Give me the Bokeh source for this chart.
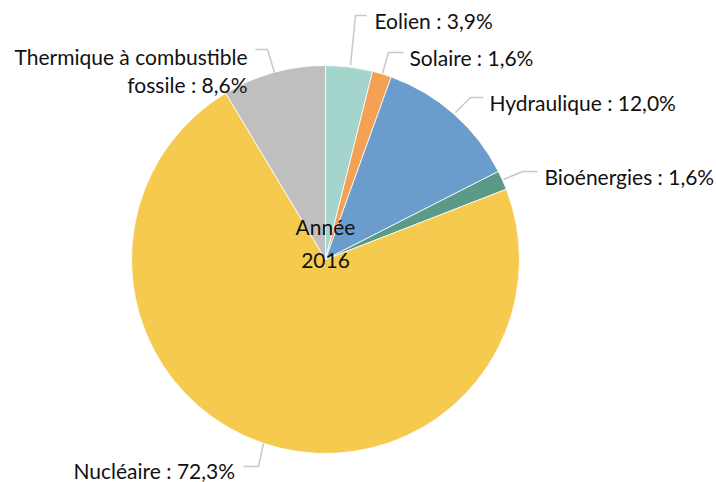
import math
from bokeh.plotting import figure
from bokeh.models import Range1d, ColumnDataSource
from bokeh.core.properties import value
from bokeh.embed import file_html
from bokeh.resources import INLINE

# ---- data ----
categories = ["Eolien", "Solaire", "Hydraulique", "Bioénergies", "Nucléaire",
              "Thermique à combustible fossile"]
shares = [3.9, 1.6, 12.0, 1.6, 72.3, 8.6]
colors = ["#a3d5cc", "#f4a055", "#6a9dcb", "#5b9a86", "#f6c94f", "#bfbfbf"]
center_title = ["Année", "2016"]

# ---- layout (image pixel coordinates, y down) ----
W, H = 716, 482
CX, CY, R = 325, 259, 194

def fmt(v):
    return ("%.1f" % v).replace(".", ",") + "%"

p = figure(width=W, height=H, output_backend="svg", toolbar_location=None,
           x_range=Range1d(0, W), y_range=Range1d(-H, 0),
           x_axis_location=None, y_axis_location=None, min_border=0)
p.grid.visible = False
p.outline_line_color = None
p.background_fill_color = "white"

total = sum(shares)
starts, ends = [], []
cum = 0.0
for s in shares:
    a0 = cum / total
    cum += s
    a1 = cum / total
    # clockwise from 12 o'clock
    starts.append(math.pi / 2 - a1 * 2 * math.pi)
    ends.append(math.pi / 2 - a0 * 2 * math.pi)

src = ColumnDataSource(dict(start=starts, end=ends, color=colors))
p.wedge(x=CX, y=-CY, radius=R, start_angle="start", end_angle="end",
        fill_color="color", line_color="white", line_width=0.8, source=src)

# leader lines (image coords)
leaders = [
    [(350, 65), (355, 15), (366, 15)],
    [(382, 73), (388, 52), (403, 52)],
    [(455, 112), (470, 97), (483, 97)],
    [(503, 179), (522, 171), (537, 171)],
    [(263, 443), (258, 466), (243, 466)],
    [(274, 72), (267, 49), (255, 49)],
]
p.multi_line(xs=[[pt[0] for pt in l] for l in leaders],
             ys=[[-pt[1] for pt in l] for l in leaders],
             line_color="#c8c8c8", line_width=1.5)

font = value("Lato")
FS = "21px"
TC = "#111111"
STYLE = "normal"

# labels
lab_pos = [(374, 20, "left"), (409, 57, "left"), (489, 102, "left"),
           (544, 176, "left"), (73, 470, "left")]
for i, (x, y, al) in enumerate(lab_pos):
    p.text(x=[x], y=[-y], text=[f"{categories[i]} : {fmt(shares[i])}"],
           text_font=font, text_font_size=FS, text_color=TC,
           text_font_style=STYLE, text_align=al, text_baseline="middle")

# Thermique label split in two lines, right aligned
p.text(x=[247], y=[-56], text=["Thermique à combustible"],
       text_font=font, text_font_size=FS, text_color=TC,
       text_font_style=STYLE, text_align="right", text_baseline="middle")
p.text(x=[247], y=[-84], text=[f"fossile : {fmt(shares[5])}"],
       text_font=font, text_font_size=FS, text_color=TC,
       text_font_style=STYLE, text_align="right", text_baseline="middle")

# center title
p.text(x=[CX, CX], y=[-226, -260], text=center_title,
       text_font=font, text_font_size=FS, text_color=TC,
       text_font_style=STYLE, text_align="center", text_baseline="middle")

open("out.html", "w").write(file_html(p, INLINE))
